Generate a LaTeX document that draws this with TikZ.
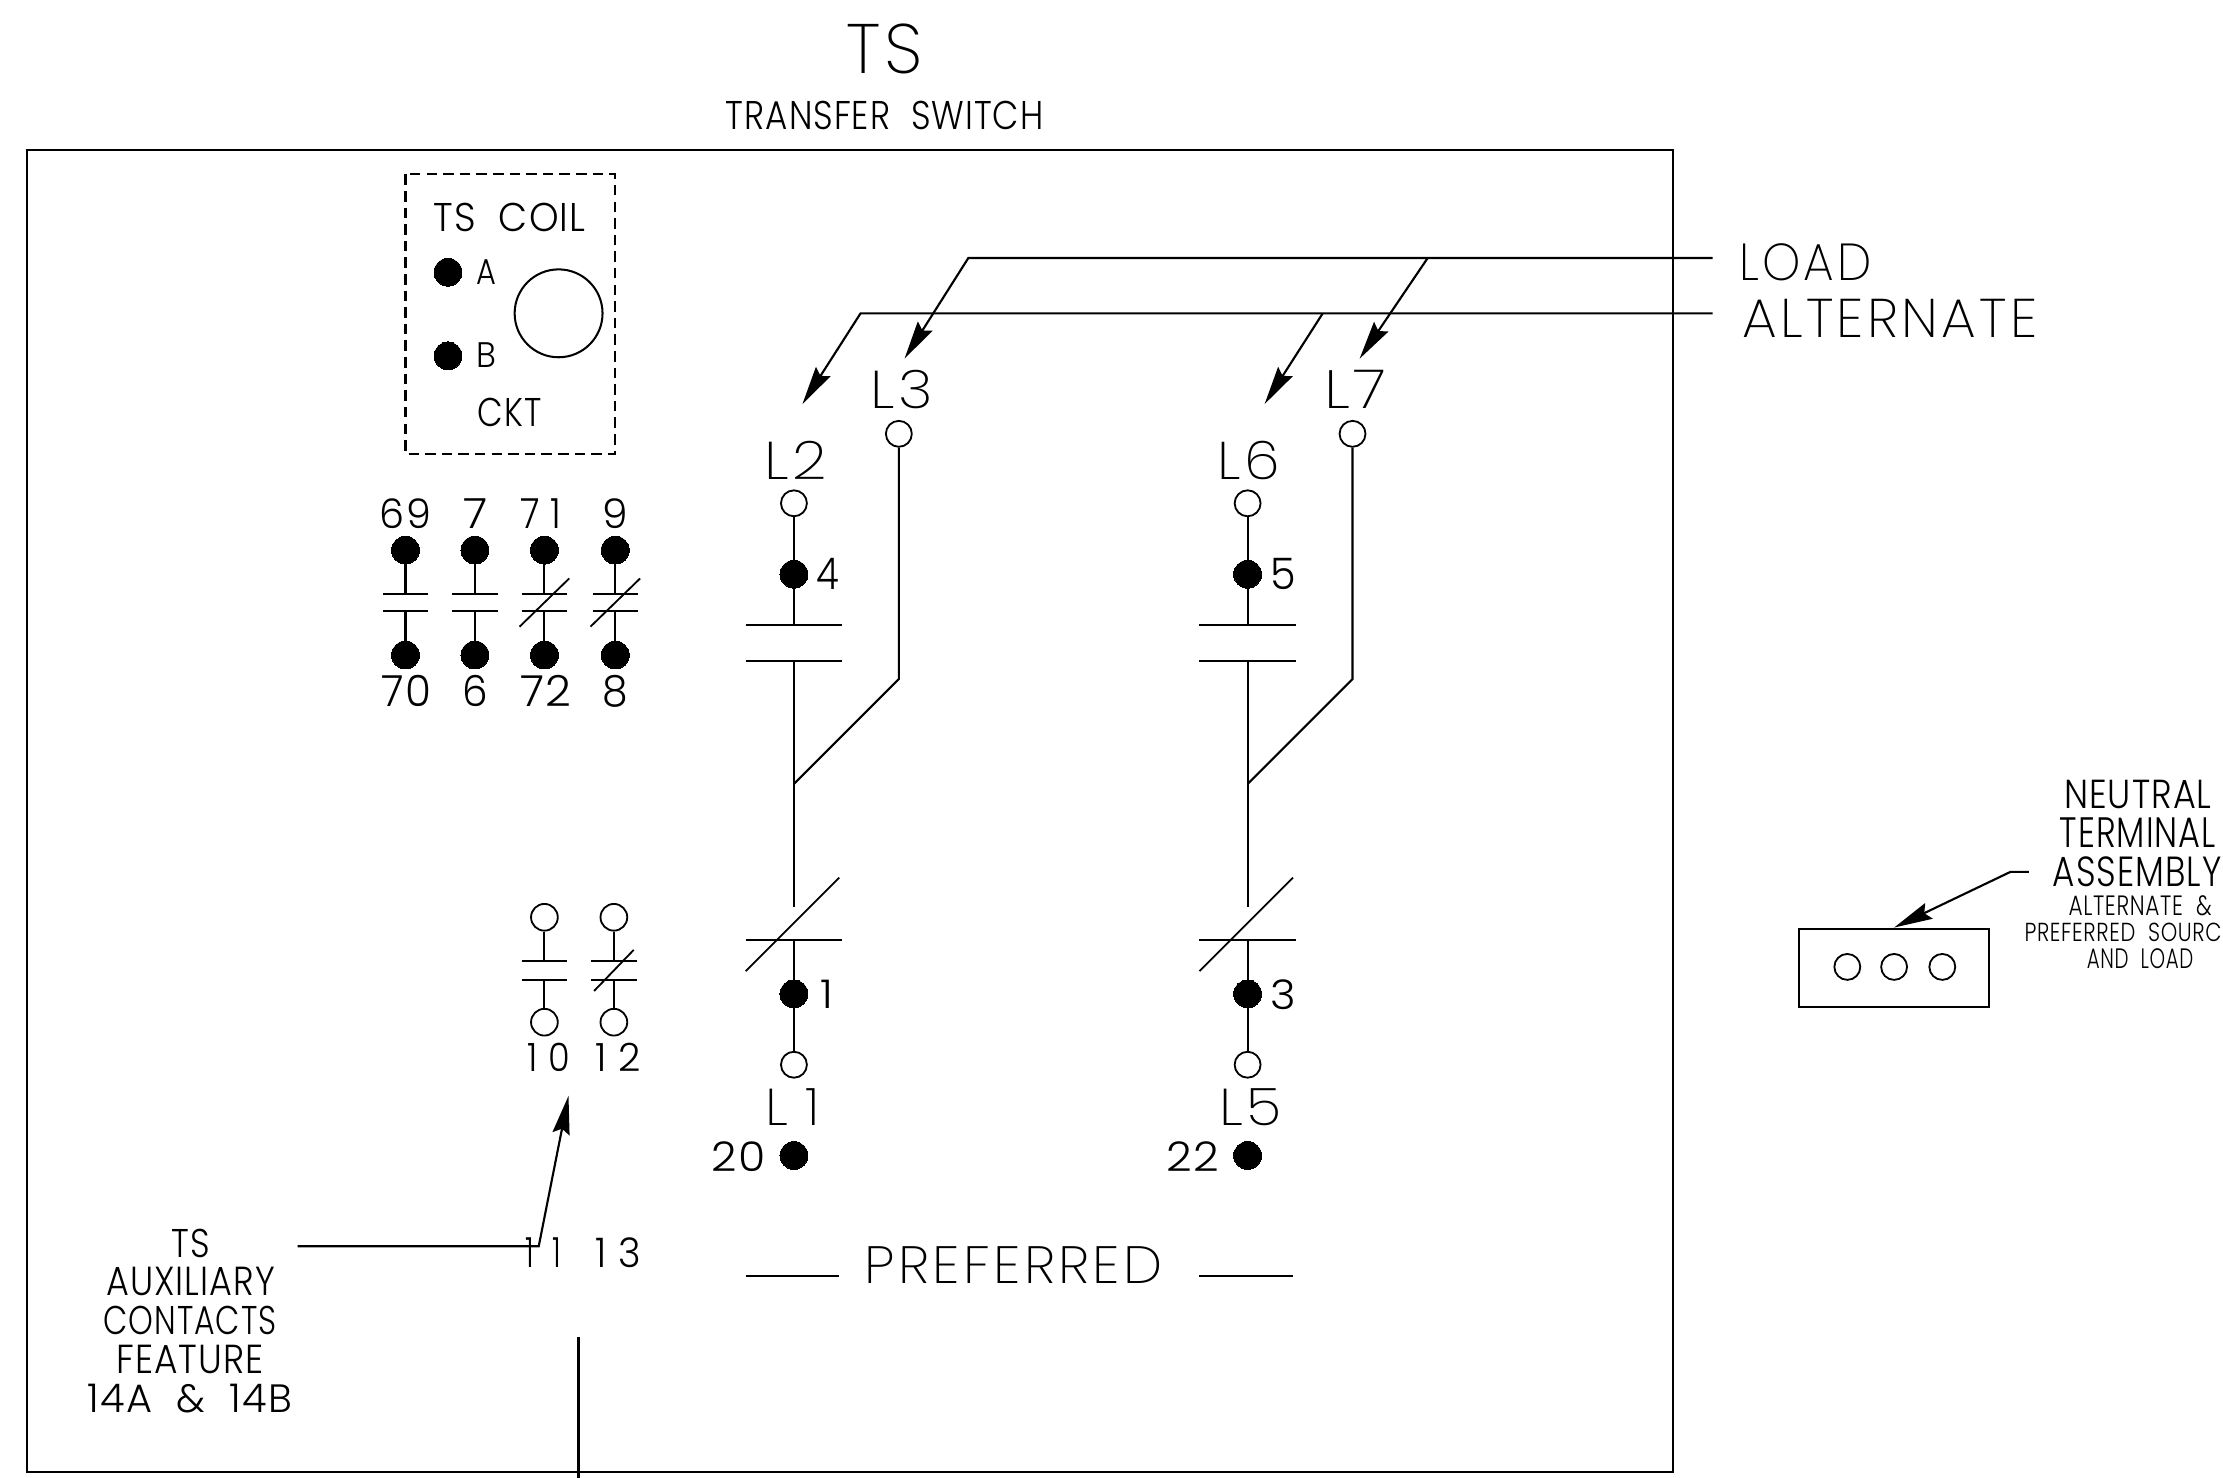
\documentclass[tikz,border=0pt]{standalone}
\usepackage{fontspec}
\usepackage{graphicx}
\setsansfont{Poppins}[UprightFont=* Light]
\newfontfamily\lightfont{Poppins}[UprightFont=* ExtraLight,LetterSpace=6]
\usetikzlibrary{arrows.meta}
\tikzset{
  every picture/.style={x=0.7pt,y=-0.7pt},
  wire/.style={line width=1.05pt,line cap=butt},
  thin wire/.style={line width=0.9pt},
  fdot/.style={circle,fill=black,draw=black,line width=0pt,inner sep=0pt,minimum size=13.8pt},
  odot/.style={circle,fill=white,draw=black,line width=0.9pt,inner sep=0pt,minimum size=12.8pt},
  adot/.style={odot,minimum size=13.2pt},
  arrowed/.style={wire,-{Stealth[length=19pt,width=8.5pt,inset=2.5pt]}},
  lbl/.style={inner sep=0pt,outer sep=0pt,anchor=north west,font=\sffamily}
}
\newcommand{\lab}[6]{%
  \pgfmathsetlengthmacro{\lw}{(#3-#2)*0.7pt}%
  \pgfmathsetlengthmacro{\lh}{(#5-#4)*0.7pt}%
  \node[lbl] (#1) at (#2,#4) {\resizebox{\lw}{\lh}{\addfontfeature{LetterSpace=3}#6}};}
\newcommand{\labx}[6]{%
  \pgfmathsetlengthmacro{\lw}{(#3-#2)*0.7pt}%
  \pgfmathsetlengthmacro{\lh}{(#5-#4)*0.7pt}%
  \node[lbl] (#1) at (#2,#4) {\resizebox{\lw}{\lh}{\lightfont #6}};}
\newcommand{\gp}{\kern.3em}
\begin{document}
\begin{tikzpicture}
\useasboundingbox (0,0) rectangle (1568,1042.5);
% frame
\draw[wire] (19,106) rectangle (1180,1038);
\labx{tTS}{597}{651}{17}{52}{TS}
\lab{tTransfer}{512}{736}{71}{91}{TRANSFER~~SWITCH}
% coil box
\draw[wire,dash pattern=on 5.2pt off 3pt] (286,123) rectangle (434,320);
\lab{tCoil}{306}{413}{143}{163}{TS~~COIL}
\node[fdot] (dA) at (316,192) {};
\node[fdot] (dB) at (316,251) {};
\lab{tA}{336}{350}{183}{200.5}{A}
\lab{tB}{336}{350}{241.5}{259}{B}
\node[circle,draw,line width=1pt,inner sep=0pt,minimum size=43.4pt] (coil) at (394,221) {};
\lab{tCkt}{337}{382}{281}{301}{CKT}
% small contacts
\foreach \n/\x/\s in {a/286/0,b/335/0,c/384/1,d/434/1}{
  \node[fdot] (\n t) at (\x,388) {};
  \node[fdot] (\n b) at (\x,462) {};
  \coordinate (\n u) at (\x,419);
  \coordinate (\n l) at (\x,431);
  \draw[wire] (\n t) -- (\n u);
  \draw[wire] (\n b) -- (\n l);
  \draw[wire] ([xshift=-11.2pt]\n u) -- ([xshift=11.2pt]\n u);
  \draw[wire] ([xshift=-11.2pt]\n l) -- ([xshift=11.2pt]\n l);
  \ifnum\s=1
    \draw[thin wire] ([shift={(-17.5,23)}]\n u) -- ([shift={(17.5,-23)}]\n l);
  \fi
}
\lab{t69}{268}{304}{352}{373}{69}
\lab{t7}{327}{344}{352}{373}{7}
\lab{t71}{367}{396}{352}{373}{7\gp 1}
\lab{t9}{425}{443}{352}{373}{9}
\lab{t70}{269}{304}{476}{498}{70}
\lab{t6}{326}{344}{476}{498}{6}
\lab{t72}{367}{403}{476}{498}{72}
\lab{t8}{425}{443}{476}{498}{8}
% main poles
\foreach \n/\x/\xb in {p/560/634,q/880/954}{
  \node[odot] (\n top) at (\x,355) {};
  \node[fdot] (\n dot) at (\x,405) {};
  \coordinate (\n ua) at (\x,441);
  \coordinate (\n ub) at (\x,466);
  \coordinate (\n j) at (\x,553);
  \coordinate (\n sl) at (\x,640);
  \coordinate (\n lb) at (\x,663);
  \node[fdot] (\n low) at (\x,701) {};
  \node[odot] (\n bot) at (\x,751) {};
  \node[fdot] (\n ft) at (\x,815) {};
  \node[odot] (\n alt) at (\xb,306) {};
  \coordinate (\n k) at (\xb,479);
  \draw[wire] (\n top) -- (\n dot) -- (\n ua);
  \draw[wire] (\n ub) -- (\n sl);
  \draw[wire] (\n lb) -- (\n low) -- (\n bot);
  \draw[wire] (\n alt) -- (\n k) -- (\n j);
  \draw[wire] ([xshift=-23.8pt]\n ua) -- ([xshift=23.8pt]\n ua);
  \draw[wire] ([xshift=-23.8pt]\n ub) -- ([xshift=23.8pt]\n ub);
  \draw[wire] ([xshift=-23.8pt]\n lb) -- ([xshift=23.8pt]\n lb);
  \draw[thin wire] ([shift={(-34,22)}]\n lb) -- ([shift={(32,-44)}]\n lb);
}
\labx{tL2}{539}{583}{311}{338}{L2}
\labx{tL3}{614}{658}{261}{288}{L3}
\lab{tFour}{576}{592}{394}{416}{4}
\lab{tOne}{579}{588}{691}{711}{1}
\labx{tLone}{540}{578}{768}{794}{L\gp 1}
\lab{tTwenty}{502}{540}{805}{826}{20}
\labx{tL6}{859}{903}{311}{338}{L6}
\labx{tL7}{934}{978}{261}{288}{L7}
\lab{tFive}{896}{914}{394}{416}{5}
\lab{tThree}{896}{914}{691}{712}{3}
\labx{tLfive}{860}{904}{768}{794}{L5}
\lab{tTwentyTwo}{823}{860}{805}{826}{22}
% buses
\coordinate (loadEnd) at (1208,182);
\coordinate (loadBend) at (683,182);
\coordinate (loadTip) at (638,253);
\coordinate (loadJ) at (1007,182);
\coordinate (loadTip2) at (959,253);
\coordinate (altEnd) at (1208,221);
\coordinate (altBend) at (607,221);
\coordinate (altTip) at (566,285);
\coordinate (altJ) at (933,221);
\coordinate (altTip2) at (892,285);
\draw[arrowed] (loadEnd) -- (loadBend) -- (loadTip);
\draw[arrowed] (loadJ) -- (loadTip2);
\draw[arrowed] (altEnd) -- (altBend) -- (altTip);
\draw[arrowed] (altJ) -- (altTip2);
\labx{tLoad}{1227}{1320}{172}{198}{LOAD}
\labx{tAlt}{1229}{1437}{211}{238}{ALTERNATE}
% neutral
\node[draw,line width=1.05pt,minimum width=93.8pt,minimum height=38.5pt,inner sep=0pt] (nbox) at (1336,682.5) {};
\node[odot] (n1) at (1303,682) {};
\node[odot] (n2) at (1336,682) {};
\node[odot] (n3) at (1370,682) {};
\coordinate (nEnd) at (1431,615);
\coordinate (nBend) at (1418,615);
\draw[arrowed] (nEnd) -- (nBend) -- (nbox.north);
\lab{tNeutral}{1456}{1560}{550}{570}{NEUTRAL}
\lab{tTerminal}{1453}{1563}{577}{598}{TERMINAL}
\lab{tAssembly}{1448}{1567}{604}{625}{ASSEMBLY}
\lab{tAltAmp}{1459}{1560}{632}{646}{ALTERNATE~~\&}
\lab{tPref}{1428}{1567}{651}{664}{PREFERRED~~SOURC}
\lab{tAndLoad}{1472}{1547}{669}{683}{AND~~LOAD}
% auxiliary contacts
\foreach \n/\x/\s in {e/384/0,f/433/1}{
  \node[adot] (\n t) at (\x,647) {};
  \node[adot] (\n b) at (\x,721) {};
  \coordinate (\n u) at (\x,678);
  \coordinate (\n l) at (\x,691);
  \draw[wire] (\n t) -- (\n u);
  \draw[wire] (\n b) -- (\n l);
  \draw[wire] ([xshift=-11.2pt]\n u) -- ([xshift=11.2pt]\n u);
  \draw[wire] ([xshift=-11.2pt]\n l) -- ([xshift=11.2pt]\n l);
  \ifnum\s=1
    \draw[thin wire] ([shift={(-14,21)}]\n u) -- ([shift={(14,-21)}]\n l);
  \fi
}
\lab{tTen}{372}{402}{736}{756}{1\gp 0}
\lab{tTwelve}{420}{452}{736}{756}{1\gp 2}
\lab{tEleven}{371}{396}{873}{894}{1\gp\gp 1}
\lab{tThirteen}{420}{452}{873}{894}{1\gp 3}
\coordinate (auxEnd) at (210,879);
\coordinate (auxBend) at (380,879);
\coordinate (auxTip) at (401,773);
\draw[arrowed] (auxEnd) -- (auxBend) -- (auxTip);
\coordinate (vt) at (408,943);
\coordinate (vb) at (408,1043);
\draw[wire] (vt) -- (vb);
\lab{tAuxa}{121}{148}{867}{887}{TS}
\lab{tAuxb}{75}{194}{894}{914}{AUXILIARY}
\lab{tAuxc}{73}{195}{921}{941}{CONTACTS}
\lab{tAuxd}{82}{186}{949}{969}{FEATURE}
\lab{tAuxe}{62}{206}{976}{996}{14A~~\&~~14B}
% preferred
\labx{tPreferred}{610}{820}{879}{905}{PREFERRED}
\coordinate (pa) at (526,900);
\coordinate (pb) at (592,900);
\coordinate (pc) at (846,900);
\coordinate (pd) at (912,900);
\draw[wire] (pa) -- (pb);
\draw[wire] (pc) -- (pd);
\end{tikzpicture}
\end{document}
